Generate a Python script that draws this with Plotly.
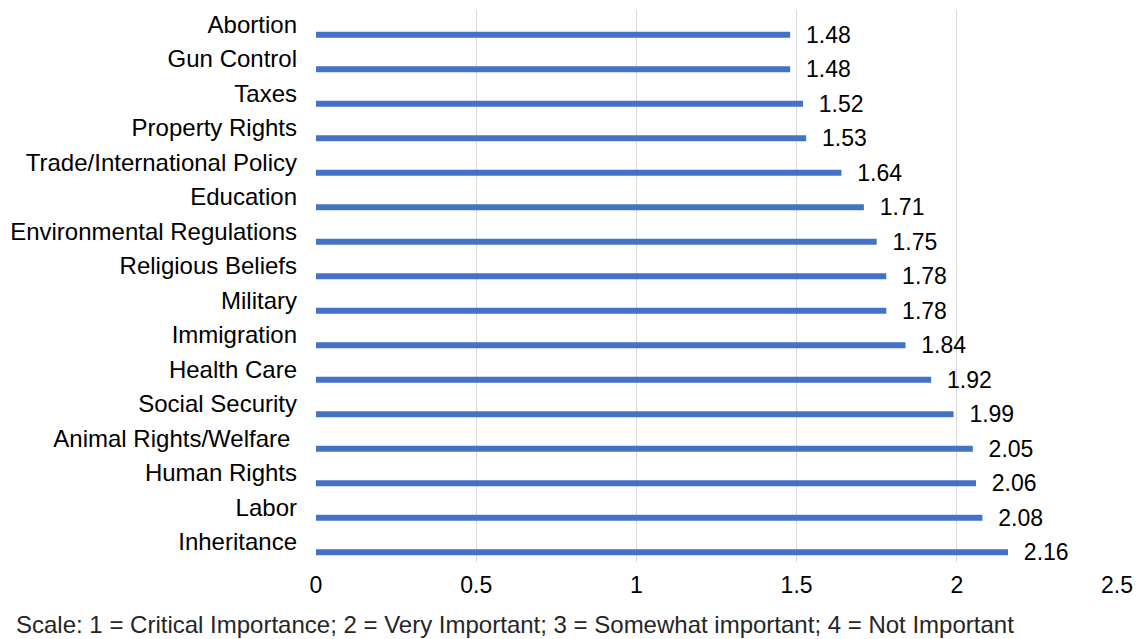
import plotly.graph_objects as go

categories = ["Abortion", "Gun Control", "Taxes", "Property Rights",
              "Trade/International Policy", "Education", "Environmental Regulations",
              "Religious Beliefs", "Military", "Immigration", "Health Care",
              "Social Security", "Animal Rights/Welfare ", "Human Rights", "Labor",
              "Inheritance"]
values = [1.48, 1.48, 1.52, 1.53, 1.64, 1.71, 1.75, 1.78, 1.78, 1.84, 1.92,
          1.99, 2.05, 2.06, 2.08, 2.16]
x_ticks = [0, 0.5, 1, 1.5, 2, 2.5]
x_tick_labels = ["0", "0.5", "1", "1.5", "2", "2.5"]
caption = ("Scale: 1 = Critical Importance; 2 = Very Important; "
           "3 = Somewhat important; 4 = Not Important")

FONT = "Liberation Sans, Arial, Helvetica, sans-serif"

fig = go.Figure(go.Bar(
    x=values, y=categories, orientation="h",
    marker=dict(color="#4472C4", line=dict(width=0)),
    width=0.175, offset=0.13,
    text=[f"{v:.2f}" for v in values],
    texttemplate="  %{text}",
    textposition="outside", constraintext="none", cliponaxis=False,
    textfont=dict(family=FONT, size=23, color="#000000"),
    hoverinfo="skip",
))

fig.update_layout(
    width=1138, height=639,
    margin=dict(l=316, r=21, t=10, b=77, autoexpand=False),
    paper_bgcolor="white", plot_bgcolor="white",
    showlegend=False,
    font=dict(family=FONT, size=23, color="#000000"),
    xaxis=dict(range=[0, 2.5], tickvals=x_ticks, ticktext=x_tick_labels,
               showgrid=True, gridcolor="#D9D9D9", gridwidth=1.3,
               zeroline=False, showline=False, ticks="",
               ticklabelstandoff=7,
               tickfont=dict(family=FONT, size=23, color="#000000")),
    yaxis=dict(categoryorder="array", categoryarray=categories,
               autorange="reversed", showgrid=False, zeroline=False,
               showline=False, ticks="", ticklabelstandoff=18,
               ticklabelshift=3,
               tickfont=dict(family=FONT, size=24, color="#000000")),
    annotations=[dict(text=caption, xref="paper", yref="paper",
                      x=-0.377, y=-0.113, xanchor="left", yanchor="middle",
                      showarrow=False,
                      font=dict(family=FONT, size=24, color="#262626"))],
)

fig.write_html("out.html")
